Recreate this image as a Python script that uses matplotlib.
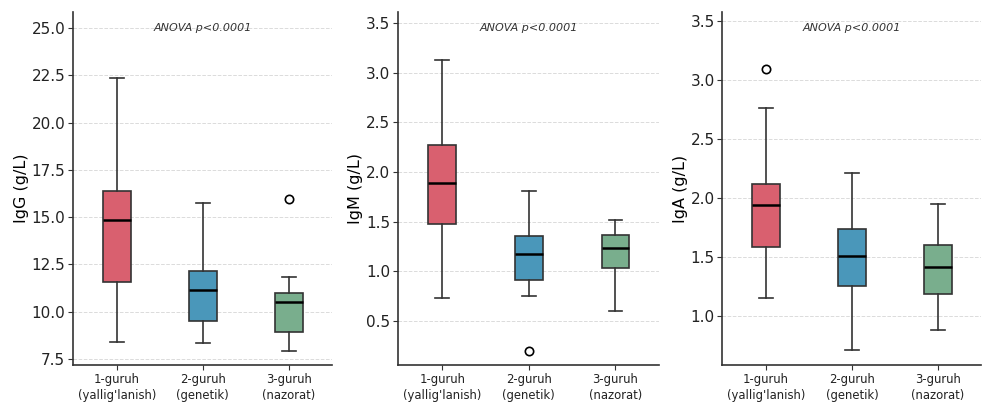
import numpy as np
import matplotlib
matplotlib.use("Agg")
import matplotlib.pyplot as plt

########################################
# Data
########################################
groups = ["1-guruh\n(yallig'lanish)", "2-guruh\n(genetik)", "3-guruh\n(nazorat)"]
colors = ["#d9606f", "#4a97ba", "#79ae8d"]

# whislo, q1, med, q3, whishi
igg_stats = [
    [8.38, 11.56, 14.83, 16.38, 22.36],
    [8.35, 9.52, 11.16, 12.13, 15.77],
    [7.93, 8.92, 10.51, 10.97, 11.85],
]
igg_fliers = [[], [], [15.96]]

igm_stats = [
    [0.73, 1.48, 1.89, 2.27, 3.125],
    [0.748, 0.915, 1.17, 1.36, 1.81],
    [0.60, 1.03, 1.23, 1.365, 1.515],
]
igm_fliers = [[], [0.20], []]

iga_stats = [
    [1.15, 1.578, 1.937, 2.12, 2.758],
    [0.707, 1.25, 1.505, 1.734, 2.21],
    [0.88, 1.18, 1.415, 1.60, 1.945],
]
iga_fliers = [[3.09], [], []]

panels = [
    ("IgG (g/L)", igg_stats, igg_fliers, (7.18, 25.85), [7.5, 10.0, 12.5, 15.0, 17.5, 20.0, 22.5, 25.0]),
    ("IgM (g/L)", igm_stats, igm_fliers, (0.057, 3.61), [0.5, 1.0, 1.5, 2.0, 2.5, 3.0, 3.5]),
    ("IgA (g/L)", iga_stats, iga_fliers, (0.58, 3.576), [1.0, 1.5, 2.0, 2.5, 3.0, 3.5]),
]
anova_text = "ANOVA p<0.0001"

########################################
# Figure
########################################
fig = plt.figure(figsize=(9.84, 4.04), dpi=100)
axes_pos = [
    [0.0742, 0.0965, 0.263, 0.874],
    [0.4045, 0.0965, 0.265, 0.874],
    [0.734, 0.0965, 0.263, 0.874],
]

for pos, (ylabel, stats, fliers, ylim, yticks) in zip(axes_pos, panels):
    ax = fig.add_axes(pos)
    bxp_stats = []
    for s, f in zip(stats, fliers):
        bxp_stats.append({
            "whislo": s[0], "q1": s[1], "med": s[2], "q3": s[3], "whishi": s[4],
            "fliers": f,
        })
    bp = ax.bxp(
        bxp_stats, positions=[1, 2, 3], widths=0.32, patch_artist=True,
        boxprops=dict(edgecolor="#333333", linewidth=1.2),
        whiskerprops=dict(color="#333333", linewidth=1.2),
        capprops=dict(color="#333333", linewidth=1.2),
        medianprops=dict(color="black", linewidth=1.8),
        flierprops=dict(marker="o", markerfacecolor="white", markeredgecolor="black",
                        markersize=6, markeredgewidth=1.2),
    )
    for patch, c in zip(bp["boxes"], colors):
        patch.set_facecolor(c)

    ax.set_xlim(0.49, 3.5)
    ax.set_ylim(*ylim)
    ax.set_yticks(yticks)
    ax.set_yticklabels([f"{t:.1f}" for t in yticks], fontsize=11)
    ax.set_xticks([1, 2, 3])
    ax.set_xticklabels(groups, fontsize=8.4, linespacing=1.3)
    ax.set_ylabel(ylabel, fontsize=11.5, labelpad=2)
    ax.yaxis.grid(True, linestyle="--", color="#cccccc", linewidth=0.7, alpha=0.7)
    ax.set_axisbelow(True)
    for side in ["top", "right"]:
        ax.spines[side].set_visible(False)
    for side in ["left", "bottom"]:
        ax.spines[side].set_color("#333333")
        ax.spines[side].set_linewidth(1.2)
    ax.tick_params(colors="#333333", labelcolor="#222222")
    ax.tick_params(axis="y", pad=2)
    ax.tick_params(axis="x", pad=2.5)
    ax.text(0.5, 0.955, anova_text, transform=ax.transAxes, ha="center", va="center",
            fontsize=8, style="italic", color="#333333")

fig.savefig("out.png", dpi=100)
